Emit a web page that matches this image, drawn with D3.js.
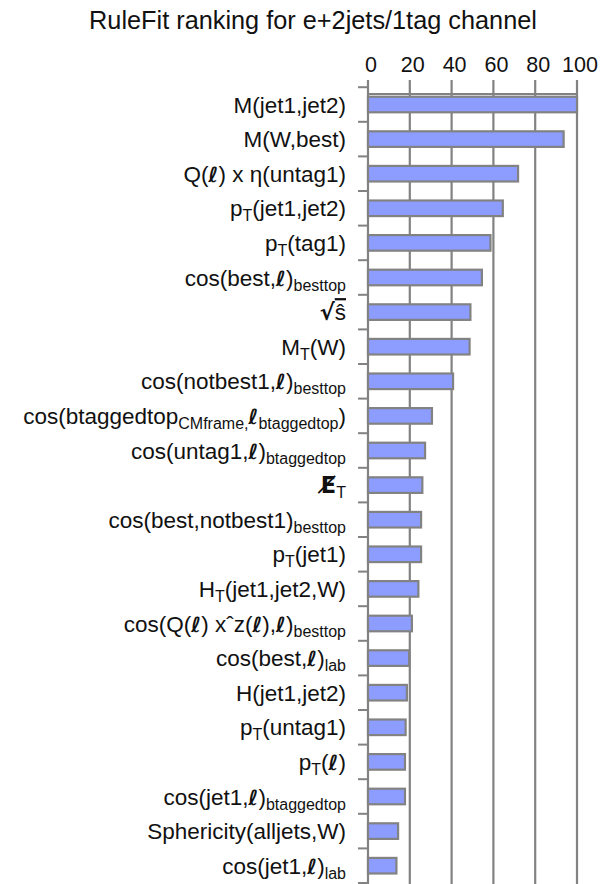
<!DOCTYPE html>
<html>
<head>
<meta charset="utf-8">
<script src="https://d3js.org/d3.v7.min.js"></script>
<title>RuleFit ranking</title>
<style type="text/css">
  body { margin: 0; background: #fff; }
  text { font-family: "Liberation Sans", Arial, sans-serif; fill: #111; }
</style>
</head>
<body>
<div id="myvisualization"></div>
<script>

// variable names, {l} = lepton symbol, _{..} = subscript
var labels = [
  "M(jet1,jet2)",
  "M(W,best)",
  "Q({l}) x \u03b7(untag1)",
  "p_{T}(jet1,jet2)",
  "p_{T}(tag1)",
  "cos(best,{l})_{besttop}",
  "{sqrts}",
  "M_{T}(W)",
  "cos(notbest1,{l})_{besttop}",
  "cos(btaggedtop_{CMframe,}{l}_{btaggedtop})",
  "cos(untag1,{l})_{btaggedtop}",
  "{met}_{T}",
  "cos(best,notbest1)_{besttop}",
  "p_{T}(jet1)",
  "H_{T}(jet1,jet2,W)",
  "cos(Q({l}) x\u02c6z({l}),{l})_{besttop}",
  "cos(best,{l})_{lab}",
  "H(jet1,jet2)",
  "p_{T}(untag1)",
  "p_{T}({l})",
  "cos(jet1,{l})_{btaggedtop}",
  "Sphericity(alljets,W)",
  "cos(jet1,{l})_{lab}"
];

// relative importance
var values = [100, 93.6, 71.8, 64.5, 58.6, 54.5, 49.0, 48.6, 40.7, 30.6, 27.3, 26.0,
              25.4, 25.4, 24.1, 21.0, 19.7, 18.6, 18.0, 17.7, 17.7, 14.4, 13.6];

var xticks = [0, 20, 40, 60, 80, 100];

var width = 601, height = 884;
var plotLeft = 368, plotRight = 577, plotTop = 87.2, plotBottom = 883;
var grey = "#828282";

var svg = d3.select("#myvisualization").append("svg")
  .attr("width", width)
  .attr("height", height);

//set title
svg.append("text")
  .attr("x", 313)
  .attr("y", 29)
  .attr("text-anchor", "middle")
  .attr("font-size", "25.3px")
  .text("RuleFit ranking for e+2jets/1tag channel");

//set scales
var x = d3.scaleLinear().domain([0, 100]).range([plotLeft, plotRight]);

var y = d3.scaleBand()
  .domain(labels)
  .range([plotTop, plotBottom])
  .paddingInner(0.55)
  .paddingOuter(0.275);

var axisY = 94;

//grid lines
svg.append("g").selectAll("line")
  .data(xticks)
  .enter().append("line")
  .attr("x1", function(d) { return x(d); })
  .attr("x2", function(d) { return x(d); })
  .attr("y1", 80)
  .attr("y2", height)
  .attr("stroke", grey)
  .attr("stroke-width", 2.2);

//top axis line
svg.append("line")
  .attr("x1", x(0)).attr("x2", x(100))
  .attr("y1", axisY).attr("y2", axisY)
  .attr("stroke", grey).attr("stroke-width", 2);

//tick labels
svg.append("g").selectAll("text")
  .data(xticks)
  .enter().append("text")
  .attr("x", function(d) { return x(d) + 3; })
  .attr("y", 72)
  .attr("text-anchor", "middle")
  .attr("font-size", "21.5px")
  .text(function(d) { return d; });

//category ticks at band edges
var step = y.step();
var edges = d3.range(labels.length + 1).map(function(i) { return y(labels[0]) - step * 0.275 + i * step; });
svg.append("g").selectAll("line")
  .data(edges)
  .enter().append("line")
  .attr("x1", x(0) - 10).attr("x2", x(0))
  .attr("y1", function(d) { return d; })
  .attr("y2", function(d) { return d; })
  .attr("stroke", grey)
  .attr("stroke-width", 2);

//bars
svg.append("g").selectAll("rect")
  .data(values)
  .enter().append("rect")
  .attr("x", x(0))
  .attr("y", function(d, i) { return y(labels[i]); })
  .attr("width", function(d) { return x(d) - x(0); })
  .attr("height", y.bandwidth())
  .style("fill", "#8c9cff")
  .style("stroke", grey)
  .style("stroke-width", 2.2);

//category labels with subscripts
var lab = svg.append("g").selectAll("text")
  .data(labels)
  .enter().append("text")
  .attr("x", 346)
  .attr("y", function(d) { return y(d) + y.bandwidth() / 2 + 8; })
  .attr("text-anchor", "end")
  .attr("font-size", "22.5px");

lab.each(function(d) {
  var t = d3.select(this);
  var parts = d.split(/(\{l\}|\{sqrts\}|\{met\}|_\{[^}]*\})/).filter(function(s) { return s.length; });
  var shifted = false;
  parts.forEach(function(p) {
    var sp = t.append("tspan");
    var dy = 0;
    if (p.indexOf("_{") == 0) {
      if (!shifted) { dy = 5; shifted = true; }
      sp.attr("font-size", "16px").text(p.slice(2, -1));
    } else {
      if (shifted) { dy = -5; shifted = false; }
      if (p == "{l}") {
        sp.attr("font-family", "DejaVu Sans").attr("font-style", "italic")
          .attr("font-weight", "bold").attr("font-size", "21px").text("\u2113");
      } else if (p == "{sqrts}") {
        sp.attr("font-family", "DejaVu Sans").attr("font-weight", "bold").text("\u221a");
        t.append("tspan").style("text-decoration", "overline").text("\u015d");
      } else if (p == "{met}") {
        sp.attr("font-family", "DejaVu Sans").attr("font-weight", "bold").text("E\u0338");
      } else {
        sp.text(p);
      }
    }
    if (dy) sp.attr("dy", dy);
  });
});

</script>
</body>
</html>
